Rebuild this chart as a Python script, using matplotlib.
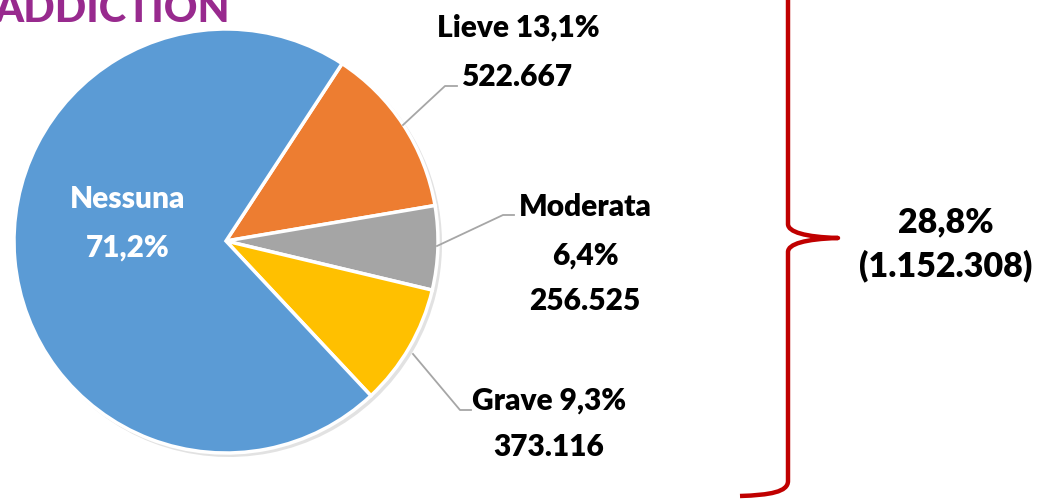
import matplotlib
matplotlib.use("Agg")
import matplotlib.pyplot as plt
from matplotlib.path import Path
from matplotlib.patches import PathPatch

# dati
categorie = ["Lieve", "Moderata", "Grave", "Nessuna"]
percentuali = [13.1, 6.4, 9.3, 71.2]
persone = ["522.667", "256.525", "373.116", None]
colori = ["#ED7D31", "#A5A5A5", "#FFC000", "#5B9BD5"]
totale_pct = "28,8%"
totale_n = "(1.152.308)"
titolo = "ADDICTION"

W, H = 1038, 502
plt.rcParams['font.family'] = ['Lato', 'DejaVu Sans']

fig = plt.figure(figsize=(W / 100, H / 100), dpi=100)
ax = fig.add_axes([0, 0, 1, 1])

def yy(y):
    # coordinate immagine -> coordinate asse
    return H - y

cx, cy, r = 226, yy(242), 212

# ombra leggera sotto la torta
ax.pie(percentuali, colors=["#BFBFBF"] * len(percentuali), startangle=56.8,
       counterclock=False, center=(cx + 3, cy - 3), radius=r + 1, frame=True,
       wedgeprops=dict(linewidth=0, alpha=0.45))
wedges, _ = ax.pie(percentuali, colors=colori, startangle=56.8, counterclock=False,
                   center=(cx, cy), radius=r, frame=True,
                   wedgeprops=dict(edgecolor="white", linewidth=2.5))

def pct(v):
    return f"{v:.1f}".replace(".", ",") + "%"

lw_lead = 1.3
grigio = "#A6A6A6"
fs = 21.5
fw = "heavy"

# Lieve
ax.plot([403, 445, 457], [yy(126), yy(87), yy(87)], color=grigio, lw=lw_lead)
ax.text(518, yy(28), f"{categorie[0]} {pct(percentuali[0])}", ha="center", va="center",
        fontsize=fs, fontweight=fw)
ax.text(517, yy(77), persone[0], ha="center", va="center", fontsize=fs, fontweight=fw)

# Moderata
ax.plot([437, 503, 514], [yy(247), yy(216), yy(216)], color=grigio, lw=lw_lead)
ax.text(585, yy(207), categorie[1], ha="center", va="center", fontsize=fs, fontweight=fw)
ax.text(585, yy(256), pct(percentuali[1]), ha="center", va="center", fontsize=fs, fontweight=fw)
ax.text(585, yy(301), persone[1], ha="center", va="center", fontsize=fs, fontweight=fw)

# Grave
ax.plot([413, 460, 471], [yy(355), yy(411), yy(411)], color=grigio, lw=lw_lead)
ax.text(549, yy(401), f"{categorie[2]} {pct(percentuali[2])}", ha="center", va="center",
        fontsize=fs, fontweight=fw)
ax.text(549, yy(447), persone[2], ha="center", va="center", fontsize=fs, fontweight=fw)

# Nessuna
ax.text(128, yy(199), categorie[3], ha="center", va="center", fontsize=fs,
        fontweight=fw, color="white")
ax.text(128, yy(248), pct(percentuali[3]), ha="center", va="center", fontsize=fs,
        fontweight=fw, color="white")

# parentesi graffa
xb = 788
verts = [
    (740, yy(-19)), (770, yy(-17)), (xb, yy(-14)), (xb, yy(0)),
    (xb, yy(225)),
    (xb, yy(233)), (805, yy(238)), (838, yy(239)),
    (805, yy(240)), (xb, yy(245)), (xb, yy(253)),
    (xb, yy(482)),
    (xb, yy(493)), (770, yy(496)), (740, yy(497)),
]
codes = [Path.MOVETO, Path.CURVE4, Path.CURVE4, Path.CURVE4,
         Path.LINETO,
         Path.CURVE4, Path.CURVE4, Path.CURVE4,
         Path.CURVE4, Path.CURVE4, Path.CURVE4,
         Path.LINETO,
         Path.CURVE4, Path.CURVE4, Path.CURVE4]
ax.add_patch(PathPatch(Path(verts, codes), fill=False, edgecolor="#C00000", lw=3.2,
                       capstyle="butt", joinstyle="round"))

ax.text(946, yy(222), totale_pct, ha="center", va="center", fontsize=24.5, fontweight=fw)
ax.text(946, yy(266), totale_n, ha="center", va="center", fontsize=24.5, fontweight=fw)

# titolo tagliato in alto
ax.text(-6, yy(22), titolo, ha="left", va="baseline", fontsize=30, fontweight="black",
        color="#982A8E")

ax.set_xlim(0, W)
ax.set_ylim(0, H)
ax.set_aspect("equal")
ax.axis("off")

fig.savefig("out.png", dpi=100)
